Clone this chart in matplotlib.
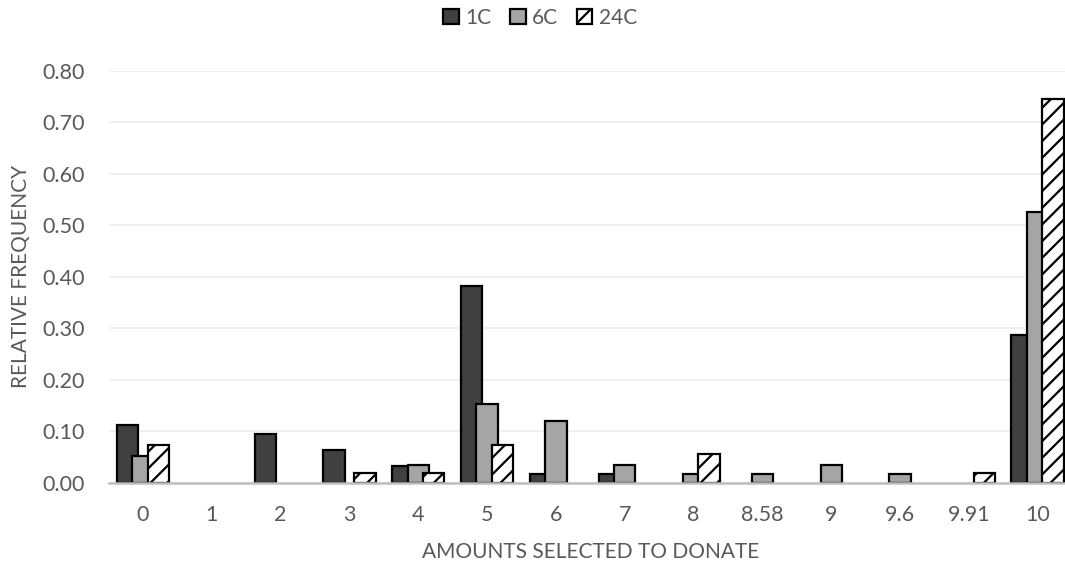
import matplotlib.pyplot as plt
import numpy as np
from matplotlib.ticker import FormatStrFormatter

plt.rcParams['font.family'] = ['Lato', 'DejaVu Sans']
plt.rcParams['hatch.linewidth'] = 1.6

amounts = ['0', '1', '2', '3', '4', '5', '6', '7', '8', '8.58', '9', '9.6', '9.91', '10']
freq_1c = [0.111, 0, 0.095, 0.063, 0.032, 0.381, 0.016, 0.016, 0, 0, 0, 0, 0, 0.286]
freq_6c = [0.051, 0, 0, 0, 0.034, 0.153, 0.119, 0.034, 0.017, 0.017, 0.034, 0.017, 0, 0.525]
freq_24c = [0.073, 0, 0, 0.018, 0.018, 0.073, 0, 0, 0.055, 0, 0, 0, 0.018, 0.745]

text_color = '#595959'
fig = plt.figure(figsize=(10.65, 5.65), dpi=100)
ax = fig.add_axes([0.102, 0.146, 0.9046, 0.729])

x = np.arange(len(amounts))
w = 0.31
step = 0.225
series = [
    ('1C', freq_1c, dict(color='#404040')),
    ('6C', freq_6c, dict(color='#A5A5A5')),
    ('24C', freq_24c, dict(color='white', hatch='//')),
]
for i, (name, vals, style) in enumerate(series):
    bars = ax.bar(x + (i - 1) * step, vals, w, label=name, edgecolor='black',
                  linewidth=1.6, zorder=3 + i, **style)
    # Excel leaves empty categories blank
    for b, v in zip(bars, vals):
        if v == 0:
            b.set_visible(False)

ax.set_xlim(-0.5, len(amounts) - 0.5)
ax.set_ylim(0, 0.8)
ax.set_yticks(np.arange(0, 0.81, 0.1))
ax.yaxis.set_major_formatter(FormatStrFormatter('%.2f'))
ax.set_xticks(x)
ax.set_xticklabels(amounts)

for s in ['top', 'right', 'left']:
    ax.spines[s].set_visible(False)
ax.spines['bottom'].set_color('#BFBFBF')
ax.spines['bottom'].set_linewidth(1.8)
ax.spines['bottom'].set_zorder(10)
ax.grid(axis='y', color='#EDEDED', linewidth=1.2, zorder=0)
ax.set_axisbelow(True)
ax.tick_params(axis='both', length=0, labelsize=15.5, labelcolor=text_color)
ax.tick_params(axis='x', pad=16)
ax.tick_params(axis='y', pad=17)

ax.set_xlabel('AMOUNTS SELECTED TO DONATE', fontsize=15, color=text_color)
ax.set_ylabel('RELATIVE FREQUENCY', fontsize=15, color=text_color)
ax.xaxis.set_label_coords(0.5, -0.145)
ax.yaxis.set_label_coords(-0.081, 0.5)

fig.legend(loc='center', bbox_to_anchor=(0.507, 0.968), ncol=3, frameon=False,
           fontsize=15, labelcolor=text_color, handlelength=0.75, handleheight=0.75,
           handletextpad=0.3, columnspacing=0.9)

fig.savefig('out.png', dpi=100)
